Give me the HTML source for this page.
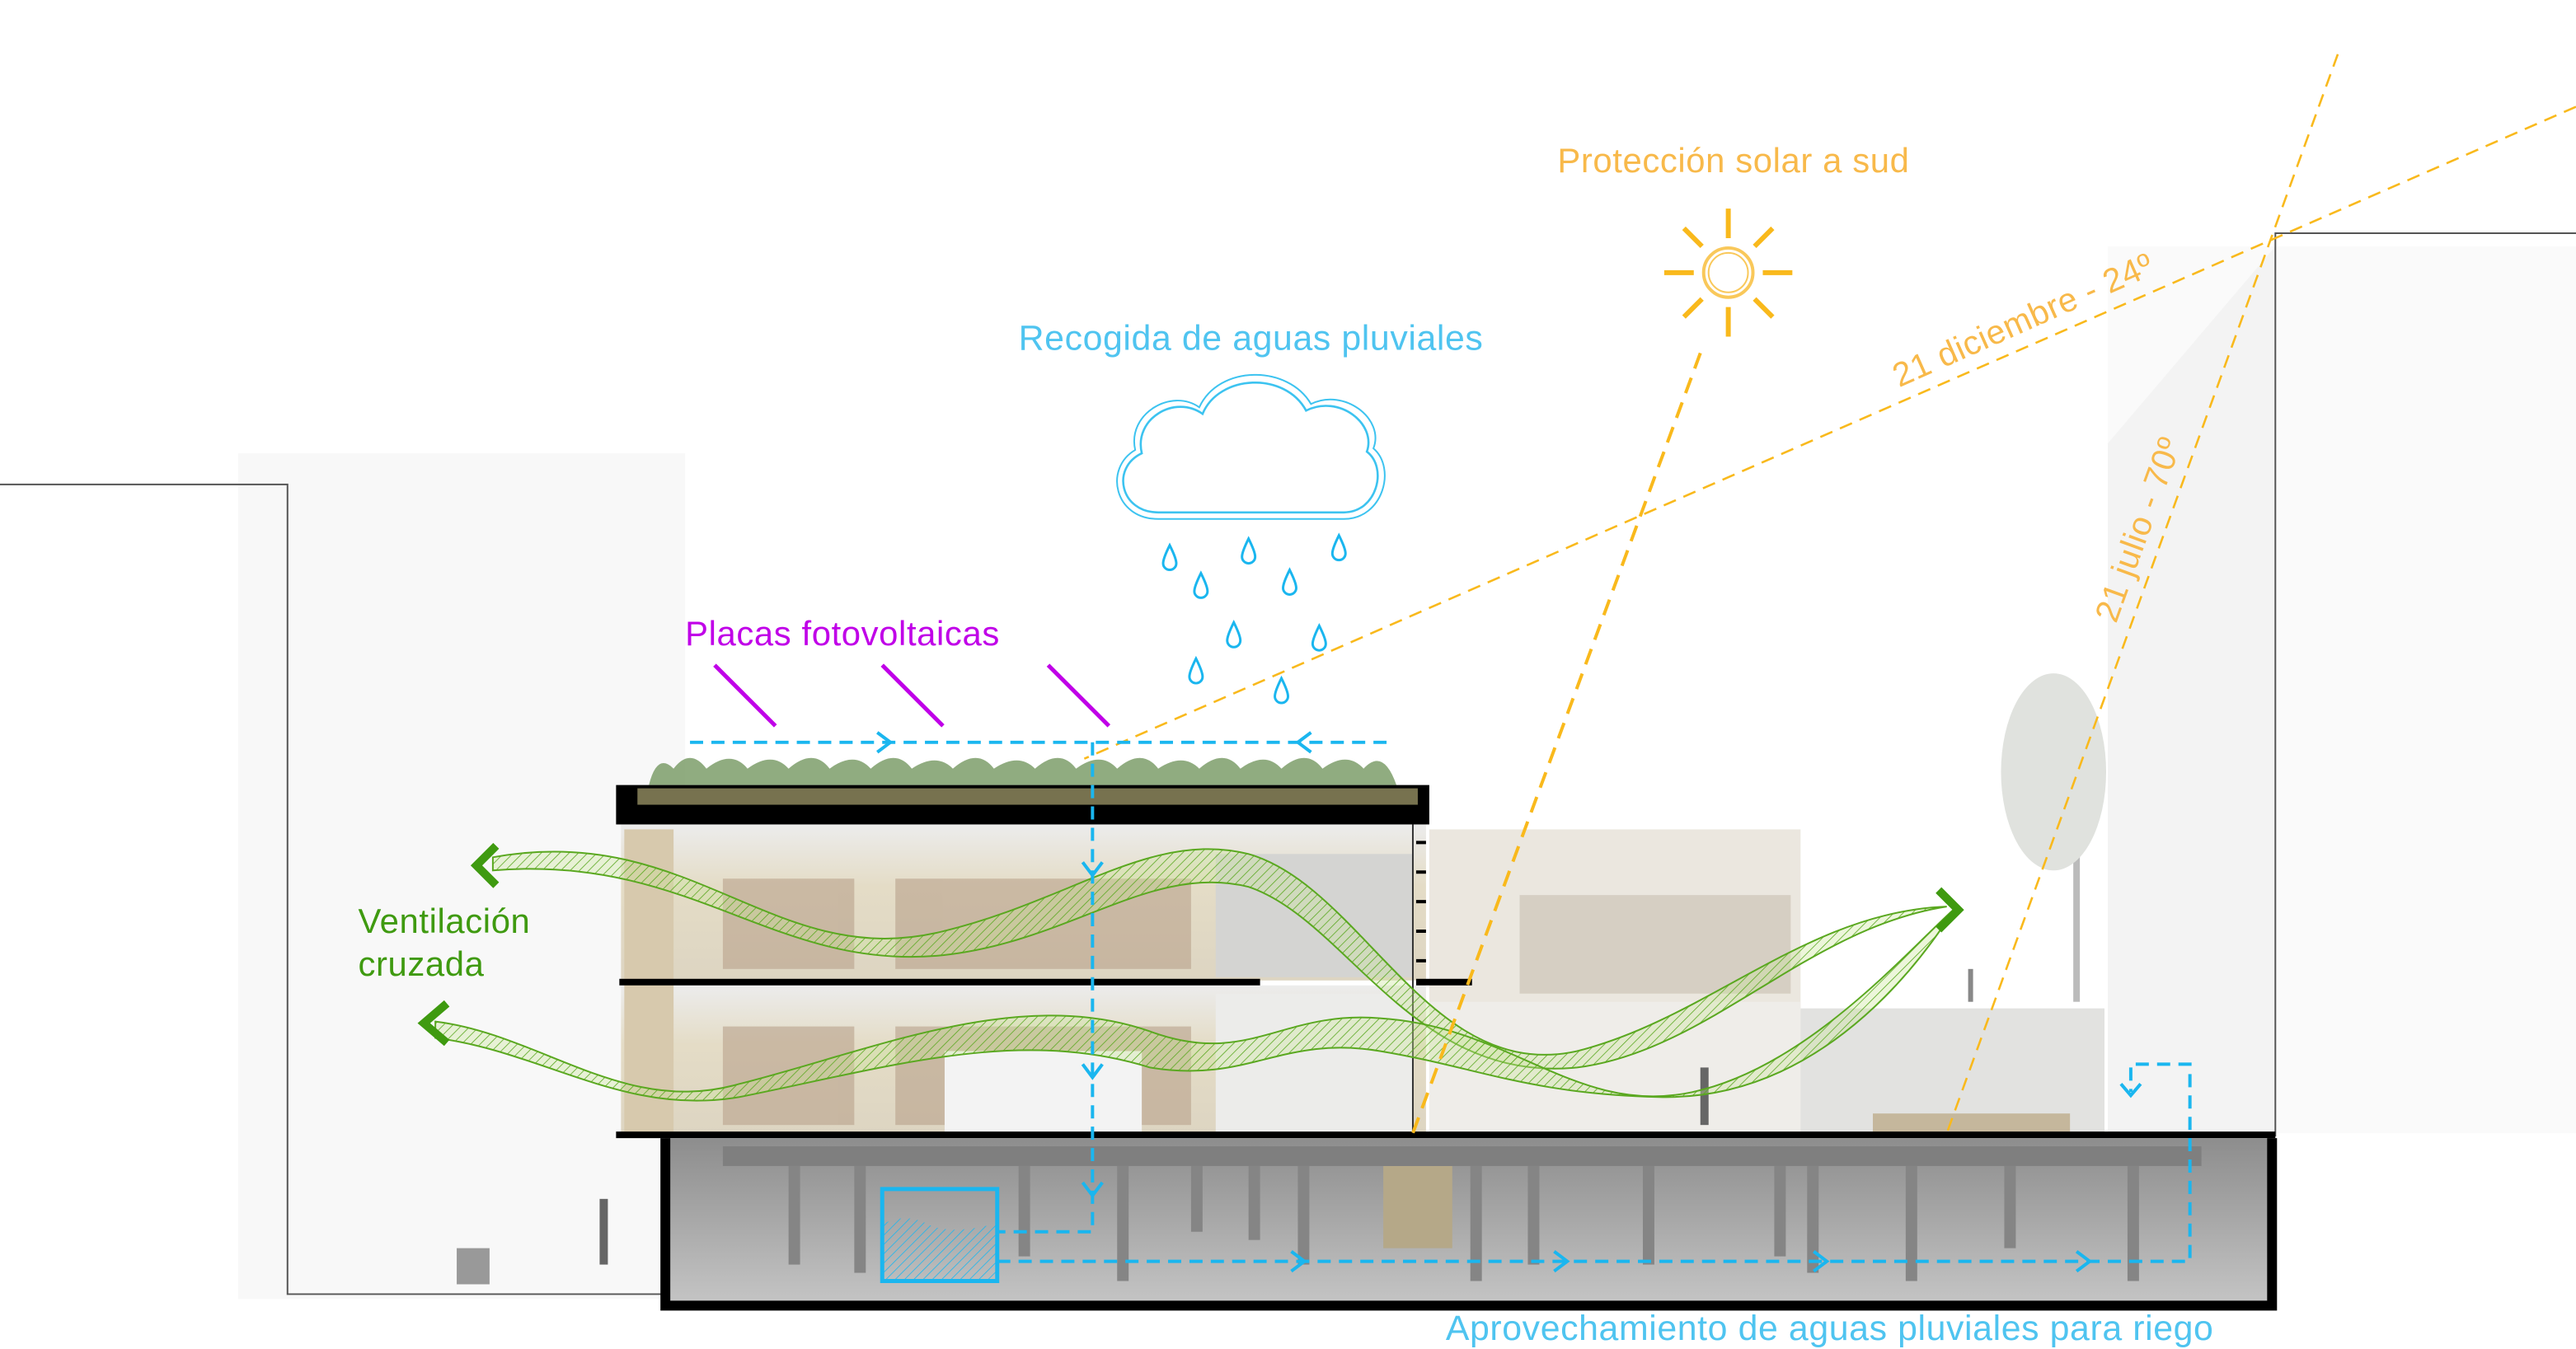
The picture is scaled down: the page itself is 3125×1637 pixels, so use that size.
<!DOCTYPE html>
<html><head><meta charset="utf-8"><style>
html,body{margin:0;padding:0;background:#fff;}
svg{display:block;}
text{font-family:"Liberation Sans",sans-serif;letter-spacing:0.3px;}
</style></head><body>
<svg width="3125" height="1637" viewBox="0 0 1568 821.4" preserveAspectRatio="none" xmlns="http://www.w3.org/2000/svg">
<defs>
<pattern id="hg" width="4" height="4" patternUnits="userSpaceOnUse" patternTransform="rotate(45)">
<rect width="4" height="4" fill="rgba(200,230,150,0.35)"/><line x1="0" y1="0" x2="0" y2="4" stroke="#5aa820" stroke-width="0.8"/></pattern>
<pattern id="hb" width="4" height="4" patternUnits="userSpaceOnUse" patternTransform="rotate(45)">
<line x1="0" y1="0" x2="0" y2="4" stroke="#1ab6ef" stroke-width="0.8"/></pattern>
<linearGradient id="bas" x1="0" y1="0" x2="0" y2="1"><stop offset="0" stop-color="#8d8d8d"/><stop offset="0.5" stop-color="#a8a8a8"/><stop offset="1" stop-color="#c4c4c4"/></linearGradient>
<linearGradient id="int" x1="0" y1="0" x2="0" y2="1"><stop offset="0" stop-color="#ececec"/><stop offset="0.4" stop-color="#e4dcc6"/><stop offset="1" stop-color="#ddd5c2"/></linearGradient>
</defs>
<!-- faint context buildings -->
<rect x="145" y="276" width="272" height="515" fill="#f8f8f8"/>
<rect x="1283" y="150" width="285" height="540" fill="#fafafa"/>
<polygon points="1283,270 1385,150 1385,690 1283,690" fill="#f3f3f3"/>
<!-- outlines -->
<polyline points="0,295 175,295 175,788 405,788" fill="none" stroke="#555" stroke-width="1"/>
<polyline points="1568,142 1385,142 1385,692" fill="none" stroke="#555" stroke-width="1"/>
<!-- tree -->
<rect x="1262" y="470" width="4" height="140" fill="#bbb"/>
<ellipse cx="1250" cy="470" rx="32" ry="60" fill="#e0e2de"/>
<!-- right building -->
<rect x="870" y="505" width="226" height="185" fill="#ebe7df"/>
<rect x="925" y="545" width="165" height="60" fill="#d6cfc3"/>
<rect x="870" y="610" width="226" height="80" fill="#efede9"/>
<rect x="1096" y="614" width="185" height="76" fill="#e2e2e0"/>
<rect x="1140" y="678" width="120" height="12" fill="#c5b79c"/>
<!-- main building interior -->
<rect x="378" y="502" width="490" height="95" fill="url(#int)"/>
<rect x="378" y="600" width="490" height="90" fill="url(#int)"/>
<rect x="380" y="505" width="30" height="185" fill="#d7c9ad"/>
<rect x="740" y="520" width="120" height="75" fill="#d4d4d2"/>
<rect x="740" y="605" width="120" height="85" fill="#ececea"/>
<g fill="#b9a28c" opacity="0.6">
<rect x="440" y="535" width="80" height="55"/><rect x="545" y="535" width="180" height="55"/>
<rect x="440" y="625" width="80" height="60"/><rect x="545" y="625" width="180" height="60"/>
</g>
<rect x="575" y="640" width="120" height="50" fill="#f3f3f3"/>
<!-- green roof -->
<path d="M395,478 Q400,458 410,468 Q420,455 430,468 Q445,456 455,468 Q470,457 480,468 Q495,455 505,468 Q520,457 530,468 Q545,455 555,468 Q570,458 580,468 Q595,455 605,468 Q620,458 630,468 Q645,455 655,468 Q670,457 680,468 Q695,455 705,468 Q720,458 730,468 Q745,455 755,468 Q770,457 780,468 Q795,455 805,468 Q820,457 830,468 Q842,455 850,478 Z" fill="#7d9d6a" opacity="0.85"/>
<!-- slabs -->
<rect x="375" y="478" width="495" height="24" fill="#000"/>
<rect x="388" y="480" width="475" height="10" fill="#77724f"/>
<rect x="377" y="596" width="390" height="4" fill="#000"/>
<rect x="862" y="596" width="34" height="4" fill="#000"/>
<rect x="375" y="689" width="1010" height="4" fill="#000"/>
<line x1="860" y1="502" x2="860" y2="690" stroke="#333" stroke-width="1"/>
<g fill="#000"><rect x="862" y="512" width="6" height="2"/><rect x="862" y="530" width="6" height="2"/><rect x="862" y="548" width="6" height="2"/><rect x="862" y="566" width="6" height="2"/><rect x="862" y="584" width="6" height="2"/></g>
<!-- basement -->
<rect x="405" y="693" width="978" height="100" fill="url(#bas)"/>
<rect x="440" y="698" width="900" height="12" fill="#7f7f7f"/>
<g fill="#858585">
<rect x="480" y="710" width="7" height="60"/><rect x="520" y="710" width="7" height="65"/><rect x="620" y="710" width="7" height="55"/><rect x="680" y="710" width="7" height="70"/><rect x="725" y="710" width="7" height="40"/><rect x="760" y="710" width="7" height="45"/><rect x="790" y="710" width="7" height="60"/><rect x="895" y="710" width="7" height="70"/><rect x="930" y="710" width="7" height="60"/><rect x="1000" y="710" width="7" height="60"/><rect x="1080" y="710" width="7" height="55"/><rect x="1100" y="710" width="7" height="65"/><rect x="1160" y="710" width="7" height="70"/><rect x="1220" y="710" width="7" height="50"/><rect x="1295" y="710" width="7" height="70"/>
</g>
<rect x="842" y="710" width="42" height="50" fill="#b5a888"/>
<path d="M405,693 V795 H1383 V693" fill="none" stroke="#000" stroke-width="6"/>
<!-- people small -->
<rect x="1035" y="650" width="5" height="35" fill="#666"/>
<rect x="1198" y="590" width="3" height="20" fill="#888"/>
<rect x="365" y="730" width="5" height="40" fill="#666"/>
<rect x="278" y="760" width="20" height="22" fill="#999"/>
<!-- ventilation ribbons -->
<path d="M300,522 C420,500 470,590 570,568 C650,550 700,505 760,520 C830,540 870,660 960,640 C1040,620 1100,555 1185,552 C1100,565 1040,640 960,650 C860,660 820,560 760,540 C700,525 650,575 570,582 C470,590 420,520 300,530 Z" fill="url(#hg)" stroke="#5aa820" stroke-width="1"/>
<path d="M265,622 C330,630 380,680 450,660 C530,640 620,600 700,628 C760,650 780,615 840,620 C920,625 960,680 1030,665 C1100,650 1160,580 1190,553 C1160,600 1100,670 1010,668 C930,666 900,650 840,640 C780,630 760,660 700,650 C620,625 540,650 450,668 C380,680 330,640 265,632 Z" fill="url(#hg)" stroke="#5aa820" stroke-width="1"/>
<polyline points="302,515 290,527 302,539" fill="none" stroke="#3f9a10" stroke-width="5"/>
<polyline points="272,611 258,623 272,635" fill="none" stroke="#3f9a10" stroke-width="5"/>
<polyline points="1180,542 1192,554 1180,566" fill="none" stroke="#3f9a10" stroke-width="5"/>
<!-- sun lines -->
<g stroke="#f9b91c" stroke-width="2" stroke-dasharray="10,6" fill="none">
<line x1="1035" y1="215" x2="860" y2="690"/>
</g>
<g stroke="#f9b91c" stroke-width="1.3" stroke-dasharray="8,5" fill="none">
<line x1="1568" y1="65" x2="660" y2="462"/>
<line x1="1423" y1="33" x2="1185" y2="690"/>
</g>
<!-- sun -->
<circle cx="1052" cy="166" r="15" fill="none" stroke="#f9c85a" stroke-width="2"/>
<circle cx="1052" cy="166" r="12" fill="none" stroke="#f9c85a" stroke-width="1"/>
<g stroke="#f9b91c" stroke-width="3">
<line x1="1052" y1="127" x2="1052" y2="145"/><line x1="1052" y1="187" x2="1052" y2="205"/>
<line x1="1013" y1="166" x2="1031" y2="166"/><line x1="1073" y1="166" x2="1091" y2="166"/>
<line x1="1025" y1="139" x2="1036" y2="150"/><line x1="1068" y1="182" x2="1079" y2="193"/>
<line x1="1079" y1="139" x2="1068" y2="150"/><line x1="1025" y1="193" x2="1036" y2="182"/>
</g>
<!-- cloud -->
<path d="M705,312 C682,312 676,285 695,276 C690,255 715,240 732,252 C742,228 782,226 795,250 C815,240 838,258 832,275 C845,285 838,312 818,312 Z" fill="none" stroke="#3cc3f0" stroke-width="1.3"/>
<path d="M705,316 C678,316 672,285 691,274 C686,252 713,236 730,248 C742,222 784,222 798,246 C818,236 843,255 836,273 C850,285 842,316 818,316 Z" fill="none" stroke="#3cc3f0" stroke-width="1"/>
<g fill="none" stroke="#1ab6ef" stroke-width="1.5">
<path d="M0,-8 Q4,0 4,3 A4,4 0 0 1 -4,3 Q-4,0 0,-8 Z" transform="translate(712,340)"/>
<path d="M0,-8 Q4,0 4,3 A4,4 0 0 1 -4,3 Q-4,0 0,-8 Z" transform="translate(760,336)"/>
<path d="M0,-8 Q4,0 4,3 A4,4 0 0 1 -4,3 Q-4,0 0,-8 Z" transform="translate(815,334)"/>
<path d="M0,-8 Q4,0 4,3 A4,4 0 0 1 -4,3 Q-4,0 0,-8 Z" transform="translate(731,357)"/>
<path d="M0,-8 Q4,0 4,3 A4,4 0 0 1 -4,3 Q-4,0 0,-8 Z" transform="translate(785,355)"/>
<path d="M0,-8 Q4,0 4,3 A4,4 0 0 1 -4,3 Q-4,0 0,-8 Z" transform="translate(751,387)"/>
<path d="M0,-8 Q4,0 4,3 A4,4 0 0 1 -4,3 Q-4,0 0,-8 Z" transform="translate(803,389)"/>
<path d="M0,-8 Q4,0 4,3 A4,4 0 0 1 -4,3 Q-4,0 0,-8 Z" transform="translate(728,409)"/>
<path d="M0,-8 Q4,0 4,3 A4,4 0 0 1 -4,3 Q-4,0 0,-8 Z" transform="translate(780,421)"/>
</g>
<!-- PV panels -->
<g stroke="#c000e8" stroke-width="2.5"><line x1="435" y1="405" x2="472" y2="442"/><line x1="537" y1="405" x2="574" y2="442"/><line x1="638" y1="405" x2="675" y2="442"/></g>
<!-- water lines -->
<g stroke="#1ab6ef" stroke-width="2" stroke-dasharray="8,5" fill="none">
<line x1="420" y1="452" x2="848" y2="452"/>
<polyline points="665,452 665,750 607,750"/>
<polyline points="607,768 1333,768 1333,648 1297,648 1297,665"/>
</g>
<g stroke="#1ab6ef" stroke-width="2" fill="none">
<polyline points="534,446 542,452 534,458"/><polyline points="798,446 790,452 798,458"/>
<polyline points="659,525 665,533 671,525"/><polyline points="659,648 665,656 671,648"/><polyline points="659,720 665,728 671,720"/>
<polyline points="786,762 794,768 786,774"/><polyline points="946,762 954,768 946,774"/><polyline points="1104,762 1112,768 1104,774"/><polyline points="1264,762 1272,768 1264,774"/>
<polyline points="1291,660 1297,667 1303,660"/>
</g>
<path d="M538,745 Q552,738 566,746 Q580,752 606,745 V780 H538 Z" fill="url(#hb)"/>
<rect x="537" y="724" width="70" height="56" fill="none" stroke="#1ab6ef" stroke-width="2.5"/>
<!-- texts -->
<text x="948" y="105" font-size="21" fill="#f8b94a">Protección solar a sud</text>
<text x="620" y="213" font-size="21.5" fill="#4fc4f0">Recogida de aguas pluviales</text>
<text x="417" y="393" font-size="21" fill="#c000e8">Placas fotovoltaicas</text>
<text x="218" y="568" font-size="21" fill="#3f9a10">Ventilación</text>
<text x="218" y="594" font-size="21" fill="#3f9a10">cruzada</text>
<text x="880" y="816" font-size="21.5" fill="#4fc4f0">Aprovechamiento de aguas pluviales para riego</text>
<text x="1156" y="236" font-size="20.5" fill="#f8b94a" transform="rotate(-24 1156 236)">21 diciembre - 24º</text>
<text x="1288" y="380" font-size="20.5" fill="#f8b94a" transform="rotate(-70 1288 380)">21 julio - 70º</text>
</svg>
</body></html>
